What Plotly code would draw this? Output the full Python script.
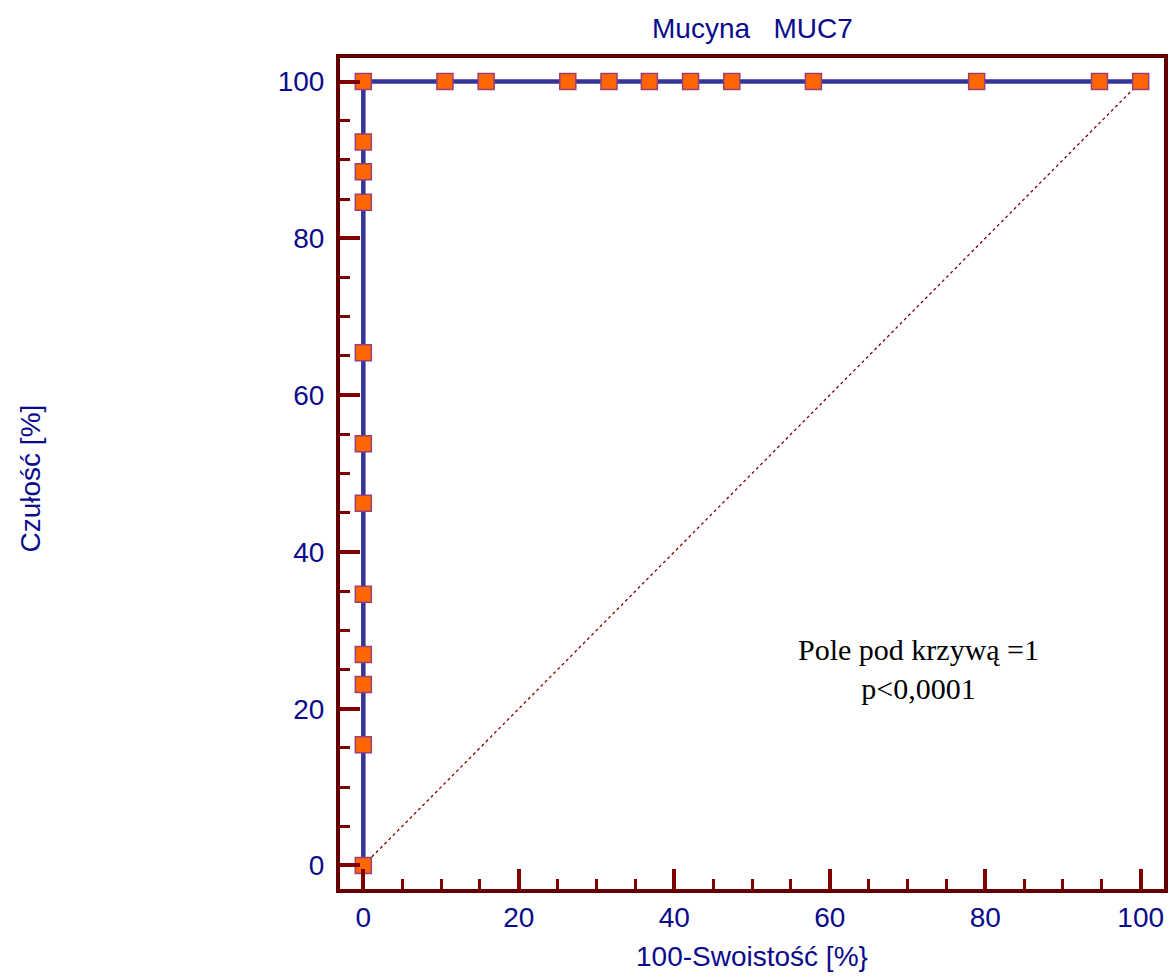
import plotly.graph_objects as go

# ROC curve coordinates (100 - specificity, sensitivity), in percent
fpr = [0, 0, 0, 0, 0, 0, 0, 0, 0, 0, 0, 0,
       10.5, 15.8, 26.3, 31.6, 36.8, 42.1, 47.4, 57.9, 78.9, 94.7, 100]
tpr = [0, 15.4, 23.1, 26.9, 34.6, 46.2, 53.8, 65.4, 84.6, 88.5, 92.3, 100,
       100, 100, 100, 100, 100, 100, 100, 100, 100, 100, 100]

# Reference (chance) diagonal
diag_x = [0, 100]
diag_y = [0, 100]

tick_vals = [0, 20, 40, 60, 80, 100]

title_text = "Mucyna   MUC7"
x_title = "100-Swoistość [%}"
y_title = "Czułość [%]"
auc_text = "Pole pod krzywą =1<br>p<0,0001"

NAVY = "#0A0A8C"
FRAME = "#660000"
TICK = "#800000"
SANS = "Liberation Sans, Arial"

fig = go.Figure()

fig.add_trace(go.Scatter(
    x=diag_x, y=diag_y, mode="lines",
    line=dict(color=TICK, width=1.3, dash="dot"),
    hoverinfo="skip", showlegend=False,
))

fig.add_trace(go.Scatter(
    x=fpr, y=tpr, mode="lines+markers",
    line=dict(color="#353599", width=4.5),
    marker=dict(symbol="square", size=16, color="#FF6600",
                line=dict(color="#9B3F78", width=1.5)),
    showlegend=False,
))

axis_common = dict(
    range=[-3, 103],
    tickvals=tick_vals,
    ticks="inside",
    ticklen=20,
    tickwidth=4,
    tickcolor=TICK,
    showline=True,
    linewidth=4,
    linecolor=FRAME,
    mirror=True,
    showgrid=False,
    zeroline=False,
    tickfont=dict(family=SANS, size=28, color=NAVY),
    minor=dict(dtick=5, ticks="inside", ticklen=10, tickwidth=3, tickcolor=TICK),
)

fig.update_xaxes(**axis_common, ticklabelstandoff=0)
fig.update_yaxes(**axis_common, ticklabelstandoff=6)

fig.update_layout(
    width=1174, height=978,
    margin=dict(l=340, r=6, t=58, b=89),
    paper_bgcolor="white",
    plot_bgcolor="white",
    annotations=[
        dict(text=title_text, xref="paper", yref="paper", x=0.5, y=1,
             yshift=30, xanchor="center", yanchor="middle", showarrow=False,
             font=dict(family=SANS, size=28, color=NAVY)),
        dict(text=x_title, xref="paper", yref="paper", x=0.5, y=0,
             yshift=-67, xanchor="center", yanchor="middle", showarrow=False,
             font=dict(family=SANS, size=28, color=NAVY)),
        dict(text=y_title, xref="paper", yref="paper", x=0, y=0.5,
             xshift=-310, yshift=-5, xanchor="center", yanchor="middle",
             showarrow=False, textangle=-90,
             font=dict(family=SANS, size=28, color=NAVY)),
        dict(text=auc_text, xref="x", yref="y", x=71.4, y=25,
             xanchor="center", yanchor="middle", showarrow=False,
             font=dict(family="Liberation Serif, Times New Roman", size=30, color="black")),
    ],
)

fig.write_html("out.html")
